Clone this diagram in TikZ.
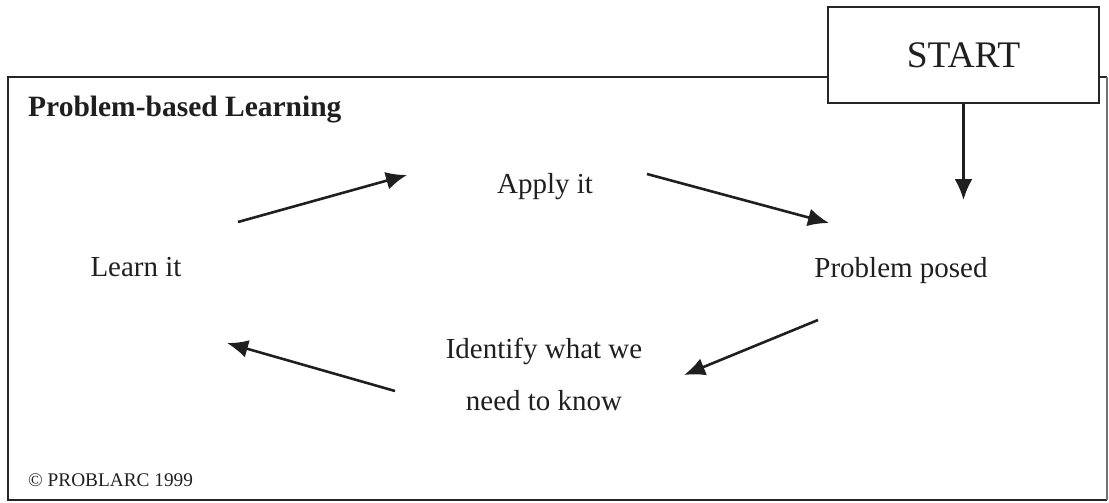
\documentclass[tikz,border=0pt]{standalone}
\usepackage{fontspec}
\setmainfont{Liberation Serif}
\usetikzlibrary{arrows.meta}
\begin{document}
\begin{tikzpicture}[x=1pt,y=-1pt,
  ink/.style={black!88},
  frame/.style={draw=black!85,line width=1.8pt},
  label/.style={ink,font=\fontsize{29pt}{34pt}\selectfont,inner sep=0pt,anchor=base},
  flow/.style={draw=black!88,line width=2.6pt,-{Latex[length=21pt,width=18pt]}}]
  \useasboundingbox (0,0) rectangle (1109,503);

  % outer frame and the START box sitting on its top edge
  \draw[draw=black!85,line width=1.8pt] (1107,500) -- (8,500) -- (8,77) -- (1107,77);
  \draw[draw=black!55,line width=1.4pt] (1107,77) -- (1107,500);
  \node[frame,fill=white,minimum width=271pt,minimum height=96pt,inner sep=0pt,
        font=\fontsize{37.5pt}{42pt}\selectfont,text=black!88] (start) at (963.5,55) {START};

  % heading and footer
  \node[ink,font=\fontsize{29.5pt}{34pt}\selectfont\bfseries,inner sep=0pt,anchor=base west]
    (title) at (28,117) {Problem-based Learning};
  \node[ink,font=\fontsize{19.3pt}{23pt}\selectfont,inner sep=0pt,anchor=base west]
    (copy) at (28,486) {\textcopyright\ PROBLARC 1999};

  % stages of the cycle
  \node[label] (apply) at (545,193) {Apply it};
  \node[label] (learn) at (136,276) {Learn it};
  \node[label] (posed) at (901,277) {Problem posed};
  \node[label,align=center,font=\fontsize{29pt}{52pt}\selectfont] (identify) at (544,410)
    {Identify what we\\need to know};

  % arrow end points
  \coordinate (a1s) at (238,222);  \coordinate (a1e) at (407,175);
  \coordinate (a2s) at (647,174);  \coordinate (a2e) at (829,223);
  \coordinate (a3s) at (818,320);  \coordinate (a3e) at (684,375);
  \coordinate (a4s) at (395,391);  \coordinate (a4e) at (227,343);
  \coordinate (s1e) at (963.5,200);

  \draw[flow] (start.south) -- (s1e);
  \draw[flow] (a1s) -- (a1e);
  \draw[flow] (a2s) -- (a2e);
  \draw[flow] (a3s) -- (a3e);
  \draw[flow] (a4s) -- (a4e);
\end{tikzpicture}
\end{document}
